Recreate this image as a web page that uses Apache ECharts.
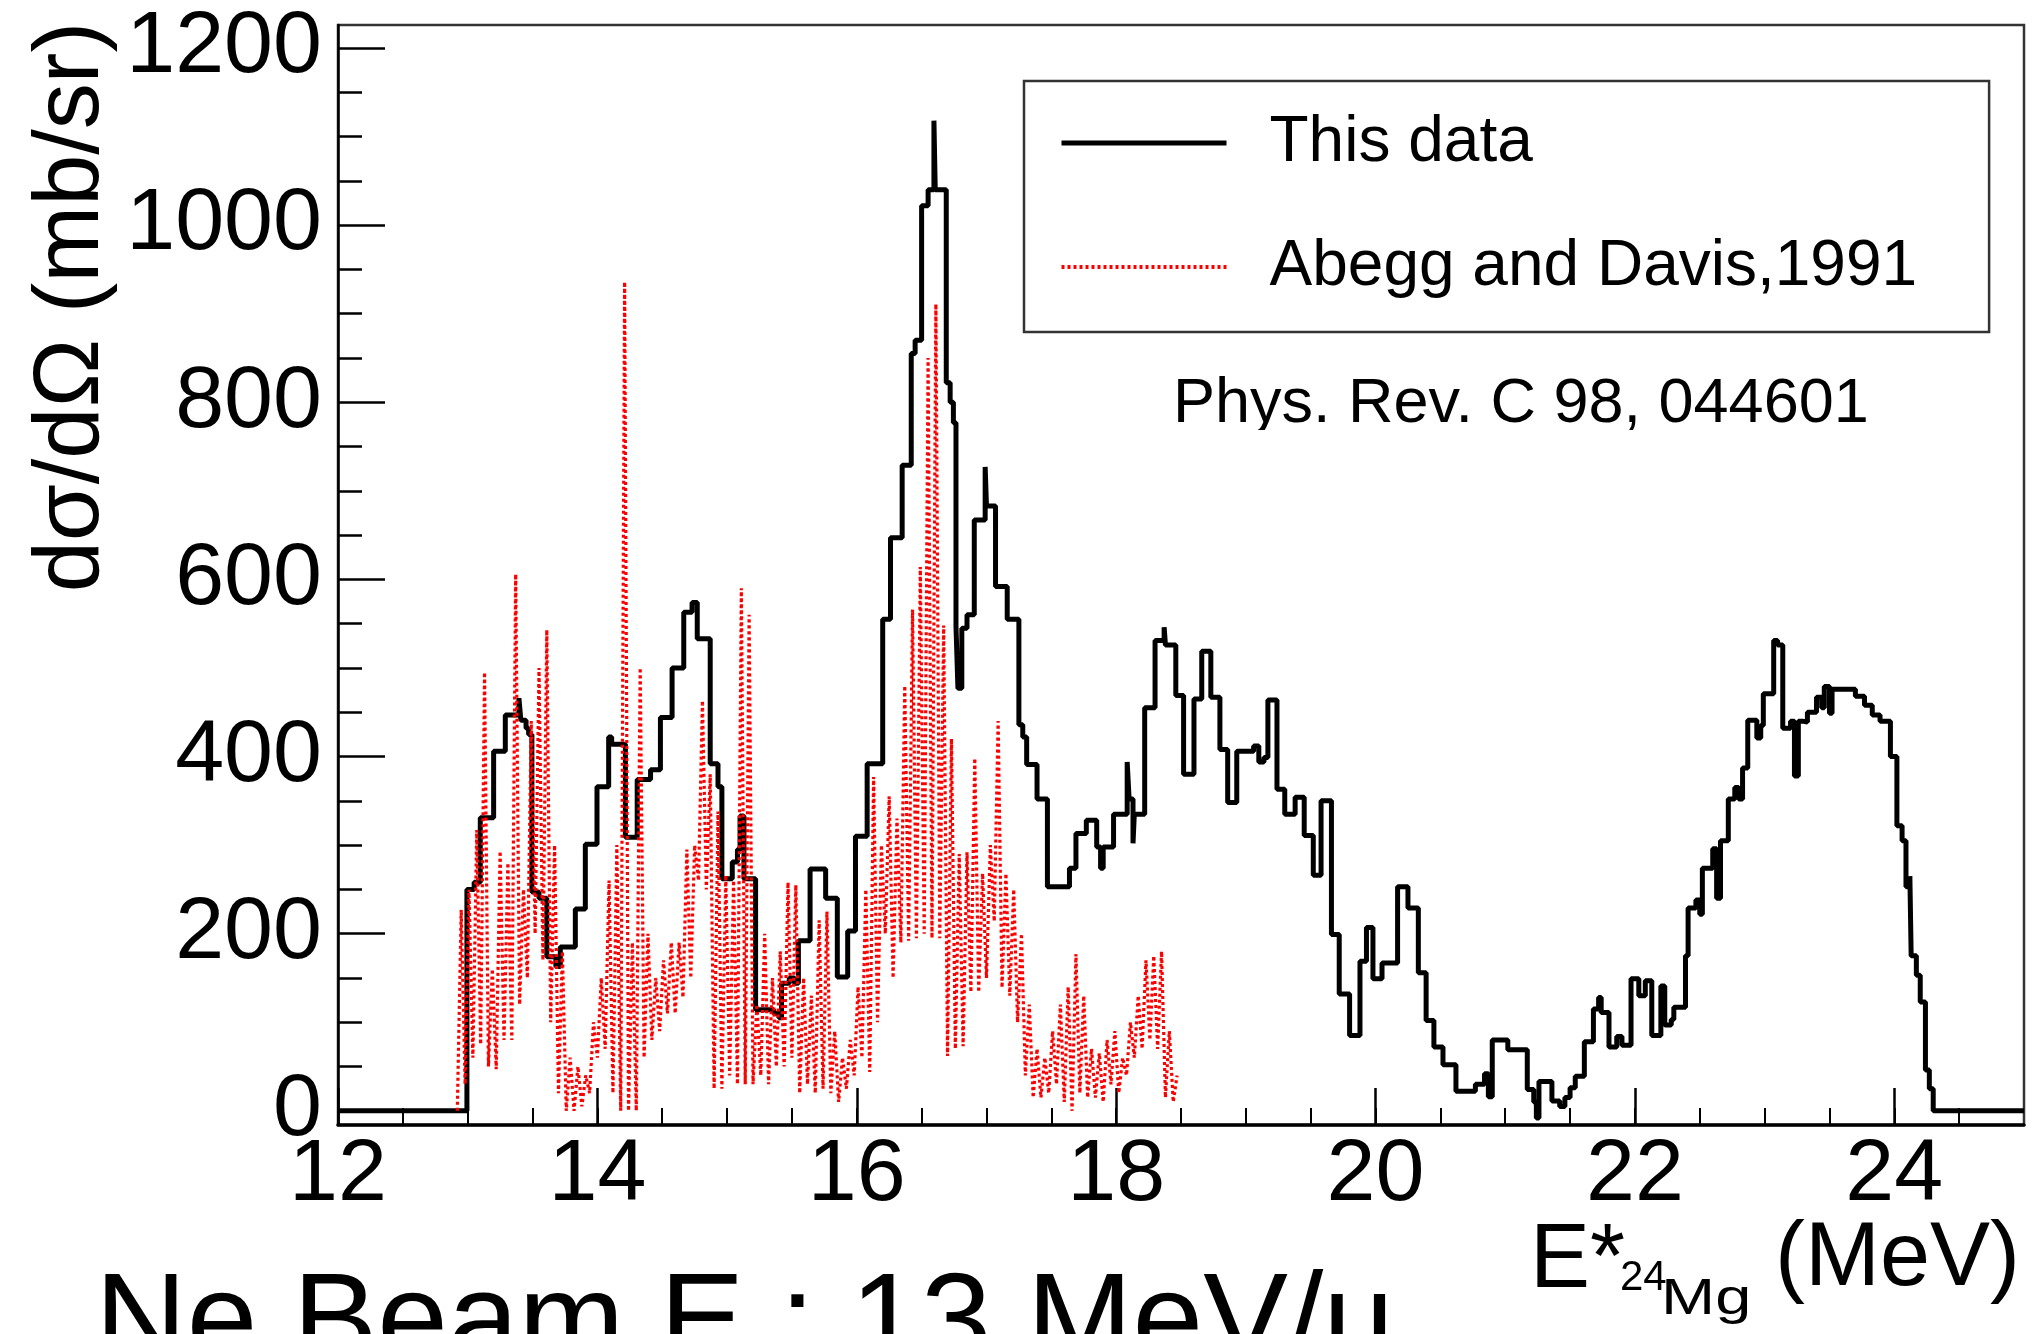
<!DOCTYPE html>
<html>
<head>
<meta charset="utf-8">
<script src="https://cdn.jsdelivr.net/npm/echarts@6.0.0/dist/echarts.min.js"></script>
<style>
html,body{margin:0;padding:0;background:#fff;}
#chart{width:2032px;height:1334px;}
</style>
</head>
<body>
<div id="chart"></div>
<script>
// ---- tick labels ----
const xTickLabels = [12, 14, 16, 18, 20, 22, 24];
const xMinorTicks = [12.5, 13, 13.5, 14, 14.5, 15, 15.5, 16, 16.5, 17, 17.5, 18, 18.5, 19, 19.5, 20, 20.5, 21, 21.5, 22, 22.5, 23, 23.5, 24, 24.5];
const yTickLabels = [0, 200, 400, 600, 800, 1000, 1200];
const yMinorTicks = [0, 50, 100, 150, 200, 250, 300, 350, 400, 450, 500, 550, 600, 650, 700, 750, 800, 850, 900, 950, 1000, 1050, 1100, 1150, 1200];

// ---- "This data" histogram: left bin edges (MeV) and values (mb/sr) ----
const blackX = [12.0, 12.994, 13.05, 13.097, 13.2, 13.29, 13.395, 13.41, 13.45, 13.47,
  13.495, 13.55, 13.61, 13.68, 13.714, 13.83, 13.907, 13.997, 14.087, 14.11,
  14.216, 14.307, 14.41, 14.486, 14.576, 14.666, 14.73, 14.77, 14.87, 14.93,
  14.96, 15.04, 15.08, 15.1, 15.13, 15.22, 15.36, 15.4, 15.42, 15.48,
  15.52, 15.55, 15.64, 15.76, 15.85, 15.93, 15.99, 16.08, 16.2, 16.26,
  16.35, 16.42, 16.45, 16.5, 16.55, 16.595, 16.605, 16.69, 16.72, 16.745,
  16.765, 16.78, 16.81, 16.85, 16.906, 16.99, 17.0, 17.07, 17.16, 17.25,
  17.28, 17.31, 17.39, 17.47, 17.64, 17.69, 17.77, 17.85, 17.88, 17.9,
  17.98, 18.085, 18.1, 18.13, 18.14, 18.22, 18.3, 18.37, 18.38, 18.46,
  18.52, 18.6, 18.66, 18.73, 18.8, 18.86, 18.93, 19.06, 19.1, 19.14,
  19.17, 19.24, 19.3, 19.38, 19.45, 19.52, 19.58, 19.66, 19.72, 19.8,
  19.88, 19.93, 19.98, 20.05, 20.17, 20.25, 20.33, 20.39, 20.45, 20.52,
  20.62, 20.77, 20.84, 20.87, 20.9, 21.02, 21.17, 21.22, 21.24, 21.26,
  21.36, 21.42, 21.46, 21.5, 21.54, 21.61, 21.68, 21.72, 21.74, 21.8,
  21.86, 21.9, 21.97, 22.03, 22.08, 22.13, 22.2, 22.23, 22.28, 22.3,
  22.39, 22.41, 22.47, 22.5, 22.52, 22.6, 22.63, 22.66, 22.72, 22.77,
  22.8, 22.83, 22.87, 22.94, 22.97, 22.99, 23.07, 23.1, 23.14, 23.2,
  23.23, 23.26, 23.29, 23.33, 23.4, 23.44, 23.46, 23.5, 23.52, 23.7,
  23.77, 23.83, 23.89, 23.97, 24.02, 24.06, 24.09, 24.12, 24.13, 24.17,
  24.2, 24.24, 24.27, 24.3, 25.0];
const blackY = [0, 250, 258, 331, 406, 447, 466, 441, 432, 425,
  247, 240, 174, 163, 185, 228, 301, 366, 422, 414,
  309, 374, 385, 444, 500, 563, 574, 533, 392, 366,
  262, 281, 295, 333, 262, 114, 110, 105, 144, 150,
  144, 192, 273, 240, 151, 203, 310, 392, 555, 647,
  729, 855, 870, 1022, 1040, 1118, 1040, 822, 800, 777,
  547, 477, 545, 560, 667, 727, 683, 592, 555, 436,
  422, 391, 352, 253, 274, 313, 328, 298, 274, 298,
  335, 394, 352, 302, 335, 455, 531, 546, 526, 469,
  380, 465, 519, 467, 408, 348, 406, 412, 394, 399,
  464, 363, 335, 354, 311, 266, 350, 199, 132, 85,
  169, 207, 149, 167, 253, 229, 156, 102, 72, 52,
  22, 30, 42, 16, 80, 69, 24, 10, -8, 33,
  11, 5, 15, 26, 39, 78, 115, 128, 111, 72,
  84, 74, 149, 130, 147, 85, 141, 97, 103, 117,
  175, 229, 238, 222, 274, 296, 240, 305, 352, 365,
  352, 387, 441, 421, 435, 471, 531, 526, 432, 440,
  378, 440, 439, 450, 467, 455, 479, 449, 476, 468,
  458, 447, 440, 400, 322, 305, 253, 265, 175, 153,
  123, 46, 25, 0, 0];

// ---- "Abegg and Davis,1991": fine bins, local low / high readings ----
const redStart = 12.92;
const redStep = 0.06;
const redHi = [227, 250, 317, 495, 160, 293, 280, 606, 250, 440,
  500, 543, 300, 180, 60, 50, 40, 100, 150, 260,
  300, 936, 190, 500, 200, 150, 170, 190, 190, 295,
  300, 463, 380, 338, 266, 260, 590, 560, 120, 200,
  150, 180, 258, 255, 150, 130, 215, 225, 90, 60,
  80, 140, 250, 377, 300, 355, 330, 480, 566, 614,
  850, 911, 548, 420, 290, 292, 398, 268, 300, 440,
  268, 250, 200, 120, 70, 60, 90, 120, 140, 177,
  130, 70, 65, 80, 90, 60, 100, 130, 170, 175,
  180, 90, 40];
const redLo = [0, 30, 60, 75, 50, 47, 80, 80, 120, 150,
  200, 170, 100, 20, 0, 0, 5, 20, 60, 70,
  20, 0, 0, 0, 60, 80, 90, 110, 110, 128,
  150, 260, 250, 25, 25, 40, 30, 30, 30, 40,
  30, 50, 50, 60, 20, 30, 20, 25, 20, 10,
  25, 40, 60, 44, 100, 200, 150, 190, 192, 195,
  200, 195, 195, 62, 70, 73, 134, 134, 150, 214,
  139, 130, 100, 40, 15, 15, 20, 30, 10, 0,
  20, 15, 15, 10, 30, 20, 40, 60, 70, 80,
  70, 15, 10];

const blackData = blackX.map((x, i) => [x, blackY[i]]);
const redData = [];
for (let k = 0; k < redHi.length; k++) {
  const x0 = redStart + k * redStep;
  redData.push([+x0.toFixed(3), redLo[k]]);
  redData.push([+(x0 + redStep / 2).toFixed(3), redHi[k]]);
}

const FONT = '"Liberation Sans", Arial, Helvetica, sans-serif';
const chart = echarts.init(document.getElementById('chart'), null, {renderer: 'canvas'});
const plain = v => String(v);

const option = {
  animation: false,
  backgroundColor: '#ffffff',
  grid: {
    left: 338, right: 8, top: 25, bottom: 209,
    show: true, borderColor: '#333333', borderWidth: 2.5, backgroundColor: 'transparent'
  },
  xAxis: [
    {
      type: 'value', min: 12, max: 25, position: 'bottom',
      axisLine: {show: true, onZero: false, lineStyle: {color: '#000', width: 3.5}},
      axisTick: {show: true, inside: true, length: 37, customValues: xTickLabels, lineStyle: {color: '#000', width: 2.5}},
      axisLabel: {show: true, customValues: xTickLabels, formatter: plain, margin: 7, fontSize: 88, fontFamily: FONT, color: '#000'},
      splitLine: {show: false}
    },
    {
      type: 'value', min: 12, max: 25, position: 'bottom',
      axisLine: {show: false, onZero: false},
      axisTick: {show: true, inside: true, length: 17, customValues: xMinorTicks, lineStyle: {color: '#000', width: 2}},
      axisLabel: {show: false},
      splitLine: {show: false}
    }
  ],
  yAxis: [
    {
      type: 'value', min: -16, max: 1226, position: 'left',
      axisLine: {show: true, onZero: false, lineStyle: {color: '#000', width: 2.5}},
      axisTick: {show: true, inside: true, length: 47, customValues: yTickLabels, lineStyle: {color: '#000', width: 2.5}},
      axisLabel: {show: true, customValues: yTickLabels, formatter: plain, margin: 16, fontSize: 88, fontFamily: FONT, color: '#000'},
      splitLine: {show: false}
    },
    {
      type: 'value', min: -16, max: 1226, position: 'left',
      axisLine: {show: false, onZero: false},
      axisTick: {show: true, inside: true, length: 24, customValues: yMinorTicks, lineStyle: {color: '#000', width: 2.5}},
      axisLabel: {show: false},
      splitLine: {show: false}
    }
  ],
  legend: {
    orient: 'vertical', left: 1024, top: 81,
    padding: [24, 72, 27, 35], itemGap: 48, itemWidth: 165, itemHeight: 70,
    borderColor: '#333333', borderWidth: 2.5, backgroundColor: '#ffffff',
    selectedMode: false,
    itemStyle: {opacity: 0},
    textStyle: {fontSize: 64, fontFamily: FONT, color: '#000', lineHeight: 70, padding: [6, 0, 0, 38]},
    data: [
      {name: 'This data', itemStyle: {opacity: 0}, lineStyle: {width: 5, color: '#000'}},
      {name: 'Abegg and Davis,1991', itemStyle: {opacity: 0}, lineStyle: {width: 4, color: '#ff0000', type: [3, 3]}}
    ]
  },
  series: [
    {
      name: 'This data', type: 'line', step: 'end', symbol: 'none',
      xAxisIndex: 0, yAxisIndex: 0,
      data: blackData,
      lineStyle: {color: '#000000', width: 5},
      itemStyle: {color: '#000000'},
      z: 3
    },
    {
      name: 'Abegg and Davis,1991', type: 'line', symbol: 'none',
      xAxisIndex: 0, yAxisIndex: 0,
      data: redData,
      lineStyle: {color: '#ff0000', width: 3.2, type: [3, 3]},
      itemStyle: {color: '#ff0000'},
      z: 4
    }
  ],
  graphic: [
    {
      type: 'text', x: 73, y: 307, rotation: Math.PI / 2,
      style: {text: 'dσ/dΩ (mb/sr)', font: '92px ' + FONT, fill: '#000',
        textAlign: 'center', textVerticalAlign: 'middle', align: 'center', verticalAlign: 'middle'}
    },
    {
      type: 'text', x: 1173, y: 405,
      style: {text: 'Phys. Rev. C 98, 044601', font: '63px ' + FONT, fill: '#000',
        textAlign: 'left', textVerticalAlign: 'middle', align: 'left', verticalAlign: 'middle'}
    },
    {
      type: 'rect', shape: {x: 1160, y: 430, width: 730, height: 16},
      style: {fill: '#ffffff'}, z: 100
    },
    {
      type: 'text', x: 1530, y: 1262,
      style: {text: 'E*', font: '90px ' + FONT, fill: '#000',
        textAlign: 'left', textVerticalAlign: 'middle', align: 'left', verticalAlign: 'middle'}
    },
    {
      type: 'text', x: 1620, y: 1278,
      style: {text: '24', font: '42px ' + FONT, fill: '#000',
        textAlign: 'left', textVerticalAlign: 'middle', align: 'left', verticalAlign: 'middle'}
    },
    {
      type: 'text', x: 1661, y: 1300, scaleX: 1.3,
      style: {text: 'Mg', font: '50px ' + FONT, fill: '#000',
        textAlign: 'left', textVerticalAlign: 'middle', align: 'left', verticalAlign: 'middle'}
    },
    {
      type: 'text', x: 1775, y: 1260,
      style: {text: '(MeV)', font: '90px ' + FONT, fill: '#000',
        textAlign: 'left', textVerticalAlign: 'middle', align: 'left', verticalAlign: 'middle'}
    },
    {
      type: 'text', x: 95, y: 1326,
      style: {text: 'Ne Beam E : 13 MeV/u', font: '127px ' + FONT, fill: '#000',
        textAlign: 'left', textVerticalAlign: 'middle', align: 'left', verticalAlign: 'middle'}
    }
  ]
};
chart.setOption(option);
</script>
</body>
</html>
